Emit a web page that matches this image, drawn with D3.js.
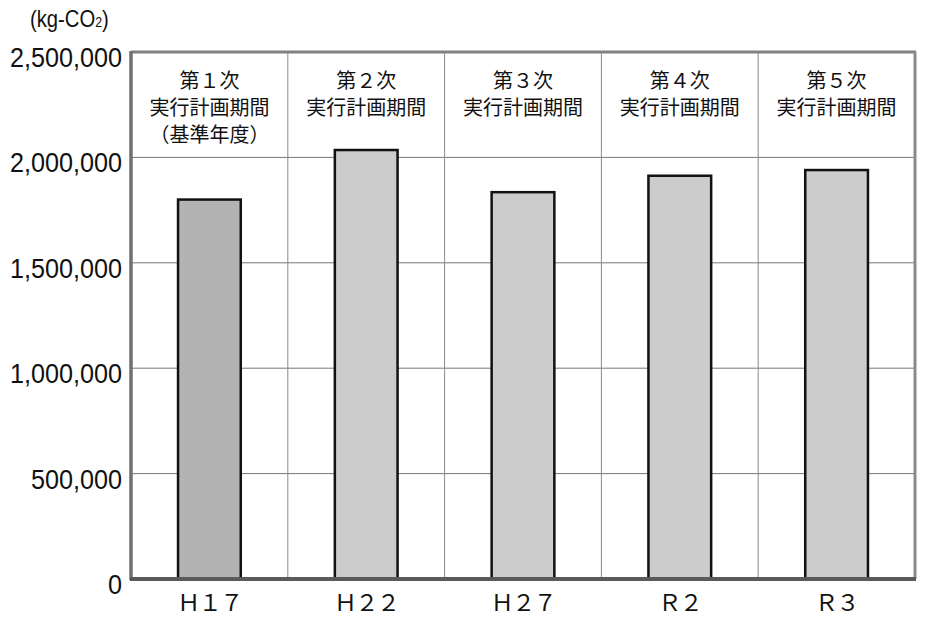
<!DOCTYPE html>
<html><head><meta charset="utf-8">
<script src="https://cdn.jsdelivr.net/npm/d3@7/dist/d3.min.js"></script>
<style>body{margin:0;background:#fff} text.jp{text-spacing-trim:space-all;font-feature-settings:"chws" 0,"halt" 0,"palt" 0,"fwid" 1}</style>
</head><body>
<svg id="c" width="940" height="618"></svg>
<script>
const categories = ["Ｈ１７","Ｈ２２","Ｈ２７","Ｒ２","Ｒ３"];
const values = [1800000, 2035000, 1835000, 1913000, 1940000];
const headers = [
  ["第１次","実行計画期間","（基準年度）"],
  ["第２次","実行計画期間"],
  ["第３次","実行計画期間"],
  ["第４次","実行計画期間"],
  ["第５次","実行計画期間"]
];
const yTicks = [0, 500000, 1000000, 1500000, 2000000, 2500000];
const barColors = ["#b3b3b3","#cccccc","#cccccc","#cccccc","#cccccc"];

const svg = d3.select("#c");
const L = 131, R = 915, T = 52, B = 579;
const x = d3.scaleBand().domain(categories).range([L, R]).paddingInner(0).paddingOuter(0);
const y = d3.scaleLinear().domain([0, 2500000]).range([B, T]);
const jp = "'Noto Sans CJK JP', sans-serif";
const lat = "'Liberation Sans', Arimo, sans-serif";

// horizontal grid
svg.append("g").selectAll("line").data(yTicks.slice(1, -1)).join("line")
  .attr("x1", L).attr("x2", R).attr("y1", d => y(d)).attr("y2", d => y(d))
  .attr("stroke", "#777").attr("stroke-width", 1);
// vertical dividers
svg.append("g").selectAll("line").data(categories.slice(1)).join("line")
  .attr("x1", d => x(d)).attr("x2", d => x(d)).attr("y1", T).attr("y2", B)
  .attr("stroke", "#8a8a8a").attr("stroke-width", 1);

// bars
const bw = x.bandwidth() * 0.4;
svg.append("g").selectAll("rect").data(values).join("rect")
  .attr("x", (d, i) => x(categories[i]) + x.bandwidth() / 2 - bw / 2)
  .attr("width", bw)
  .attr("y", d => y(d))
  .attr("height", d => y(0) - y(d))
  .attr("fill", (d, i) => barColors[i])
  .attr("stroke", "#111").attr("stroke-width", 2.5);

// frame
svg.append("line").attr("x1", L).attr("x2", R + 1).attr("y1", T).attr("y2", T).attr("stroke", "#808080").attr("stroke-width", 3);
svg.append("line").attr("x1", R).attr("x2", R).attr("y1", T).attr("y2", B).attr("stroke", "#8a8a8a").attr("stroke-width", 3);
svg.append("line").attr("x1", L).attr("x2", L).attr("y1", T - 1).attr("y2", B + 1).attr("stroke", "#707070").attr("stroke-width", 3.5);
svg.append("line").attr("x1", L - 1).attr("x2", R + 1).attr("y1", B).attr("y2", B).attr("stroke", "#5a5a5a").attr("stroke-width", 4);

// y tick labels (horizontally condensed)
const fmt = d3.format(",");
svg.append("g").selectAll("text").data(yTicks).join("text")
  .attr("transform", d => `translate(122,${y(d) + 15}) scale(0.9,1)`)
  .attr("text-anchor", "end")
  .attr("font-family", lat)
  .attr("font-size", 28).attr("fill", "#111")
  .text(d => fmt(d));

// unit label
const u = svg.append("text").attr("transform", "translate(30,27) scale(0.88,1)")
  .attr("font-family", lat).attr("font-size", 23).attr("fill", "#111");
u.append("tspan").text("(kg-CO");
u.append("tspan").attr("font-size", 14).text("2");
u.append("tspan").text(")");

// header texts
headers.forEach((lines, i) => {
  const cx = x(categories[i]) + x.bandwidth() / 2;
  svg.append("g").selectAll("text").data(lines).join("text")
    .attr("class", "jp")
    .attr("x", cx).attr("y", (d, j) => 88 + j * 27)
    .attr("text-anchor", "middle")
    .attr("font-family", jp).attr("font-size", 20).attr("fill", "#111")
    .text(d => d);
});

// x labels
svg.append("g").selectAll("text").data(categories).join("text")
  .attr("class", "jp")
  .attr("x", d => x(d) + x.bandwidth() / 2).attr("y", 611)
  .attr("text-anchor", "middle")
  .attr("font-family", jp).attr("font-size", 23).attr("letter-spacing", -1.5).attr("fill", "#111")
  .text(d => d);
</script>
</body></html>
